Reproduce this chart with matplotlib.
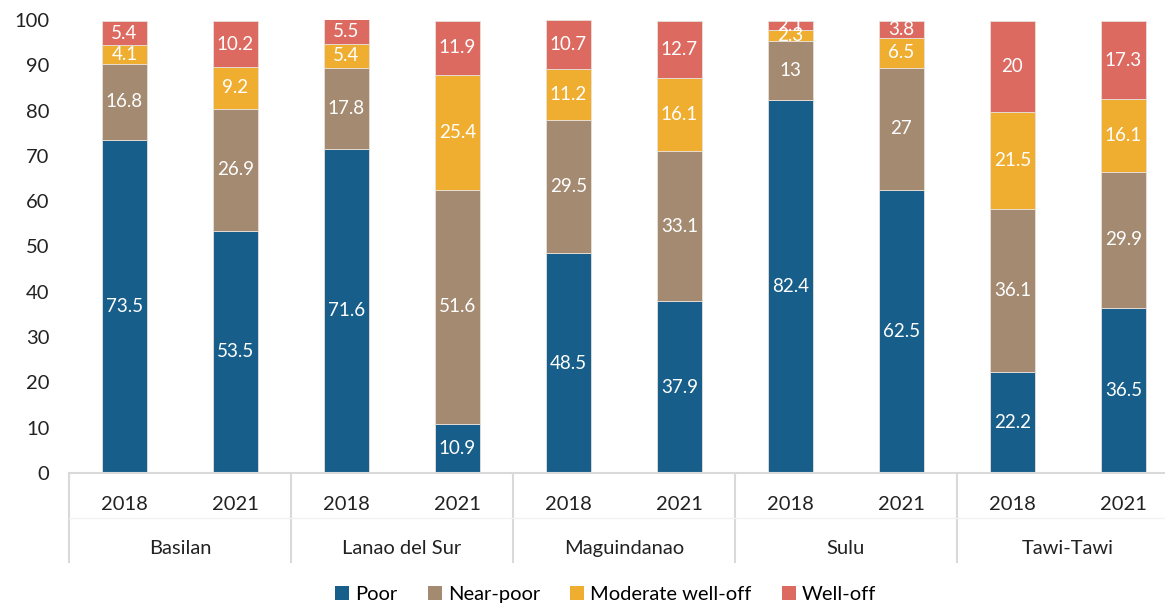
import matplotlib
matplotlib.use("Agg")
import matplotlib.pyplot as plt
import matplotlib.transforms as mtransforms
from matplotlib.patches import Patch

plt.rcParams['font.family'] = ['Lato', 'DejaVu Sans']

# Share of households by income class (%), per province and year
regions = ['Basilan', 'Lanao del Sur', 'Maguindanao', 'Sulu', 'Tawi-Tawi']
years = ['2018', '2021']
poor = [73.5, 53.5, 71.6, 10.9, 48.5, 37.9, 82.4, 62.5, 22.2, 36.5]
near_poor = [16.8, 26.9, 17.8, 51.6, 29.5, 33.1, 13, 27, 36.1, 29.9]
moderate = [4.1, 9.2, 5.4, 25.4, 11.2, 16.1, 2.3, 6.5, 21.5, 16.1]
well_off = [5.4, 10.2, 5.5, 11.9, 10.7, 12.7, 2.1, 3.8, 20, 17.3]

series = [('Poor', poor, '#175F8A'),
          ('Near-poor', near_poor, '#A38A71'),
          ('Moderate well-off', moderate, '#F0AE31'),
          ('Well-off', well_off, '#DC6A60')]

fig = plt.figure(figsize=(11.65, 6.06), dpi=100)
ax = fig.add_axes([0.0592, 0.2195, 0.9528, 0.7475])

x = list(range(len(poor)))
bottom = [0.0] * len(poor)
for name, vals, color in series:
    ax.bar(x, vals, width=0.4, bottom=bottom, color=color,
           edgecolor='#E8E0DA', linewidth=0.6)
    for xi, b, v in zip(x, bottom, vals):
        ax.text(xi, b + v / 2, f'{v:g}', ha='center', va='center',
                color='white', fontsize=13.5)
    bottom = [b + v for b, v in zip(bottom, vals)]

ax.set_xlim(-0.5, len(poor) - 0.5)
ax.set_ylim(0, 100)
ax.set_yticks(range(0, 101, 10))
ax.tick_params(axis='y', length=0, labelsize=14.5, colors='#222222', pad=14)
ax.set_xticks([])
for s in ['left', 'right', 'top']:
    ax.spines[s].set_visible(False)
ax.spines['bottom'].set_color('#D9D9D9')
ax.spines['bottom'].set_linewidth(1.5)

# two-level category axis: years, then provinces with separators
trans = mtransforms.blended_transform_factory(ax.transData, ax.transAxes)
for i, xi in enumerate(x):
    ax.text(xi, -0.07, years[i % 2], transform=trans, ha='center', va='center',
            fontsize=14.5, color='#222222')
for g, name in enumerate(regions):
    ax.text(2 * g + 0.5, -0.166, name, transform=trans, ha='center', va='center',
            fontsize=14.5, color='#222222')
for g in range(len(regions) + 1):
    ax.plot([2 * g - 0.5, 2 * g - 0.5], [0, -0.196], transform=trans,
            color='#D9D9D9', linewidth=1.5, clip_on=False)
ax.plot([-0.5, len(poor) - 0.5], [-0.099, -0.099], transform=trans,
        color='#F2F2F2', linewidth=1, clip_on=False)

handles = [Patch(facecolor=c, label=n) for n, _, c in series]
fig.legend(handles=handles, loc='lower center', bbox_to_anchor=(0.52, -0.025),
           ncol=4, frameon=False, fontsize=14.5, handlelength=0.7,
           handleheight=0.7, handletextpad=0.3, columnspacing=1.5)

fig.savefig('out.png', dpi=100)
